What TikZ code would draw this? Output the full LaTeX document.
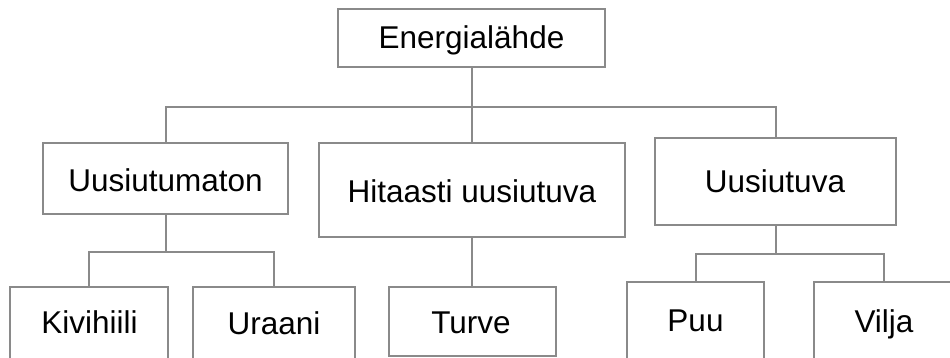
\documentclass[tikz,border=0pt]{standalone}
\usepackage{fontspec}
\setmainfont{Liberation Sans}
\definecolor{linegray}{RGB}{138,138,138}
\begin{document}
\begin{tikzpicture}[x=1pt,y=-1pt,
  box/.style={draw=linegray, line width=2pt, fill=white, inner sep=0pt, minimum width=#1},
  txt/.style={anchor=base, inner sep=0pt, font=\fontsize{31.5}{36}\selectfont, text=black},
  conn/.style={draw=linegray, line width=2pt}]
\useasboundingbox (0,0) rectangle (950,358);
\clip (0,0) rectangle (950,358);
\fill[white] (0,0) rectangle (950,358);
% boxes
\node[box=267pt, minimum height=58pt] (E) at (471.5,38) {};
\node[box=245pt, minimum height=71pt] (U) at (165.5,178.5) {};
\node[box=306pt, minimum height=94pt] (H) at (472,190) {};
\node[box=241pt, minimum height=87pt] (R) at (775.5,181.5) {};
\node[box=158pt, minimum height=100pt] (K) at (89,337) {};
\node[box=162pt, minimum height=100pt] (A) at (274,337) {};
\node[box=167pt, minimum height=69pt] (T) at (472.5,321.5) {};
\node[box=137pt, minimum height=100pt] (P) at (695.5,332) {};
\node[box=140pt, minimum height=100pt] (V) at (884,332) {};
% texts
\node[txt] (tE) at (471.5,49) {Energialähde};
\node[txt] (tU) at (165.5,192) {Uusiutumaton};
\node[txt] (tH) at (472,203) {Hitaasti uusiutuva};
\node[txt] (tR) at (775,193) {Uusiutuva};
\node[txt] (tK) at (89.5,333) {Kivihiili};
\node[txt] (tA) at (274,334) {Uraani};
\node[txt] (tT) at (471,333) {Turve};
\node[txt] (tP) at (695.5,331) {Puu};
\node[txt] (tV) at (884,332) {Vilja};
% connectors
\coordinate (e1) at ([yshift=-39pt]E.south);
\draw[conn] (E.south) -- (e1) -| (U.north);
\draw[conn] (e1) -| (H.north);
\draw[conn] (e1) -| (R.north);
\coordinate (u1) at ([yshift=-37pt]U.south);
\draw[conn] (U.south) -- (u1) -| (K.north);
\draw[conn] (u1) -| (A.north);
\draw[conn] (H.south) -- (H.south |- T.north);
\coordinate (r1) at ([yshift=-28pt]R.south);
\draw[conn] (R.south) -- (r1) -| (P.north);
\draw[conn] (r1) -| (V.north);
\end{tikzpicture}
\end{document}
